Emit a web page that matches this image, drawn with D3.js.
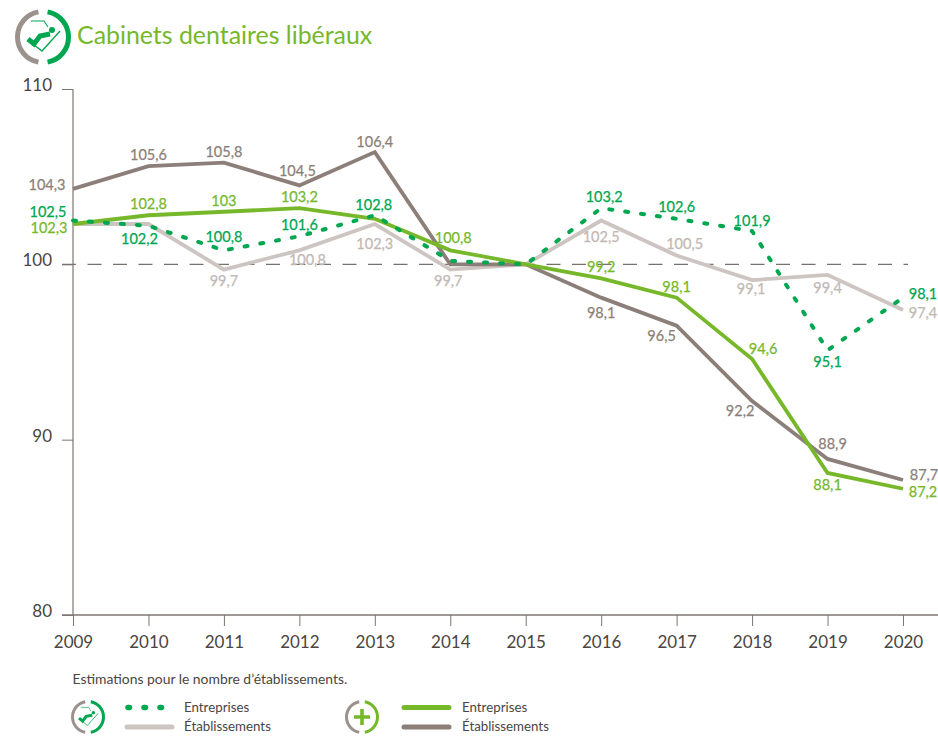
<!DOCTYPE html>
<html>
<head>
<meta charset="utf-8">
<script src="https://cdn.jsdelivr.net/npm/d3@7"></script>
<style>
  html, body { margin: 0; padding: 0; background: #fff; }
  svg { display: block; }
  text { font-family: "Lato", sans-serif; }
</style>
</head>
<body>
<svg id="chart" width="938" height="736"></svg>
<script>
// values
const years = [2009, 2010, 2011, 2012, 2013, 2014, 2015, 2016, 2017, 2018, 2019, 2020];
const yTicks = [80, 90, 100, 110];

const entreprisesCab = [102.5, 102.2, 100.8, 101.6, 102.8, 100.2, 100, 103.2, 102.6, 101.9, 95.1, 98.1];
const etabCab = [102.3, 102.3, 99.7, 100.8, 102.3, 99.7, 100, 102.5, 100.5, 99.1, 99.4, 97.4];
const entreprisesAll = [102.3, 102.8, 103, 103.2, 102.6, 100.8, 100, 99.2, 98.1, 94.6, 88.1, 87.2];
const etabAll = [104.3, 105.6, 105.8, 104.5, 106.4, 100, 100, 98.1, 96.5, 92.2, 88.9, 87.7];

const margin = {top: 89, left: 73};
const width = 830, height = 526;

const svg = d3.select("#chart");
const dark = "#4a4543", axisCol = "#7d7673";
const cGreen = "#00a650", lGreen = "#76b82a", brown = "#8c7f79", pale = "#cdc5c1";

const x = d3.scalePoint().domain(years).range([0, width]);
const y = d3.scaleLinear().domain([80, 110]).range([height, 0]);

const g = svg.append("g").attr("transform", "translate(" + margin.left + "," + margin.top + ")");

// Reference line at 100
g.append("line")
  .attr("x1", -11).attr("x2", 835)
  .attr("y1", y(100)).attr("y2", y(100))
  .attr("stroke", "#77716e").attr("stroke-width", 1.2)
  .attr("stroke-dasharray", "14 11.5");

// Axes
const xAxis = g.append("g")
  .attr("transform", "translate(0," + height + ")")
  .call(d3.axisBottom(x).tickSize(11).tickPadding(7));
const yAxis = g.append("g")
  .call(d3.axisLeft(y).tickValues(yTicks).tickSize(11).tickPadding(7));

xAxis.select(".domain").remove();
xAxis.append("line").attr("x1", -11).attr("x2", 865)
  .attr("stroke", axisCol).attr("stroke-width", 1.4);
yAxis.select(".domain").attr("d", "M0,0V" + height).attr("stroke", axisCol).attr("stroke-width", 1.2);

svg.selectAll(".tick line").attr("stroke", axisCol).attr("stroke-width", 1);
xAxis.selectAll("text").attr("font-size", 17).attr("fill", dark).attr("font-family", "Lato")
  .attr("transform", "translate(0,3)");
yAxis.selectAll("text").attr("font-size", 17).attr("fill", dark).attr("font-family", "Lato")
  .attr("transform", "translate(-3,-4)");

// Lines
const line = d3.line().x((d, i) => x(years[i])).y(d => y(d));

function drawLine(values, color, w, dash) {
  const p = g.append("path").datum(values)
    .attr("d", line)
    .attr("fill", "none")
    .attr("stroke", color)
    .attr("stroke-width", w)
    .attr("stroke-linejoin", "miter");
  if (dash) p.attr("stroke-dasharray", dash).attr("stroke-linecap", "round");
}
drawLine(etabCab, pale, 3.8);
drawLine(etabAll, brown, 3.8);
drawLine(entreprisesAll, lGreen, 3.8);
drawLine(entreprisesCab, cGreen, 4, "3 13");

// Point labels: text, year index, offset from the point
function labels(values, color, texts, offs) {
  texts.forEach((t, k) => {
    if (t === null) return;
    g.append("text")
      .attr("x", x(years[k]) + offs[k][0])
      .attr("y", y(values[k]) + offs[k][1])
      .attr("text-anchor", "middle")
      .attr("font-size", 14.5)
      .attr("fill", color)
      .attr("stroke", color)
      .attr("stroke-width", 0.25)
      .text(t);
  });
}
const fr = v => String(v).replace(".", ",");

labels(etabAll, brown, etabAll.map((v, i) => i === 5 || i === 6 ? null : fr(v)),
  [[-26,1],[0,-6],[0,-6],[-2,-9],[0,-5],[0,0],[0,0],[0,20],[-15,15],[-12,15],[5,-10],[21,0]]);
labels(entreprisesAll, lGreen, entreprisesAll.map((v, i) => i === 4 || i === 6 ? null : fr(v)),
  [[-24,9],[0,-6],[0,-6],[0,-6],[0,0],[3,-7],[0,0],[0,-6],[0,-6],[11,-5],[0,17],[20,8]]);
labels(entreprisesCab, cGreen, entreprisesCab.map((v, i) => i === 5 || i === 6 ? null : fr(v)),
  [[-25,-4],[-9,18],[0,-8],[0,-6],[-1,-5],[0,0],[0,0],[3,-6],[0,-7],[0,-5],[0,17],[20,1]]);
labels(etabCab, "#c2b8b3", etabCab.map((v, i) => i === 0 || i === 1 || i === 6 ? null : fr(v)),
  [[0,0],[0,0],[0,16],[8,15],[0,25],[-2,16],[0,0],[0,21],[8,-7],[-1,14],[0,18],[20,8]]);

// Title and note
svg.append("text").attr("x", 77).attr("y", 44)
  .attr("font-size", 24.9).attr("fill", lGreen)
  .text("Cabinets dentaires libéraux");
svg.append("text").attr("x", 72.5).attr("y", 684)
  .attr("font-size", 13.9).attr("fill", dark)
  .text("Estimations pour le nombre d’établissements.");

// Icons
function ring(cx, cy, r, w, right) {
  const arc = d3.arc().innerRadius(r - w).outerRadius(r);
  const ig = svg.append("g").attr("transform", "translate(" + cx + "," + cy + ")");
  ig.append("path").attr("fill", "#9c928d")
    .attr("d", arc({startAngle: -Math.PI + 0.18, endAngle: -0.18}));
  ig.append("path").attr("fill", right)
    .attr("d", arc({startAngle: 0.18, endAngle: Math.PI - 0.18}));
  return ig;
}
function chair(ig, s) {
  const c = ig.append("g").attr("transform", "scale(" + s + ")").attr("fill", "none").attr("stroke", cGreen);
  c.append("path").attr("stroke-width", 1.1).attr("d", "M-12,-16L1,-16L5,-10");
  c.append("path").attr("stroke-width", 1.3).attr("d", "M-10,7L-1,14L17,-6");
  c.append("path").attr("stroke-width", 5).attr("d", "M-15,2L-9,7L-3,-1L7,-3");
  c.append("circle").attr("cx", 9).attr("cy", -7).attr("r", 3).attr("fill", cGreen).attr("stroke", "none");
}
chair(ring(43, 37, 28, 5, cGreen), 1);
chair(ring(88, 717, 17, 3, cGreen), 0.6);

const plus = ring(362, 717, 17, 3, lGreen);
plus.append("path").attr("stroke", lGreen).attr("stroke-width", 3.6)
  .attr("d", "M-8,0H8M0,-8V8");

// Legend
function legendItem(x0, x1, yy, color, w, dash, label, tx) {
  const l = svg.append("line").attr("x1", x0).attr("x2", x1).attr("y1", yy).attr("y2", yy)
    .attr("stroke", color).attr("stroke-width", w).attr("stroke-linecap", "round");
  if (dash) l.attr("stroke-dasharray", dash);
  svg.append("text").attr("x", tx).attr("y", yy + 4).attr("font-size", 13.3).attr("fill", dark).text(label);
}
legendItem(128, 162, 707.5, cGreen, 5.5, "1.5 14.5", "Entreprises", 184);
legendItem(127, 172, 727, pale, 5, null, "Établissements", 184);
legendItem(404, 449, 707.5, lGreen, 5, null, "Entreprises", 462);
legendItem(404, 449, 727, brown, 5, null, "Établissements", 462);
</script>
</body>
</html>
